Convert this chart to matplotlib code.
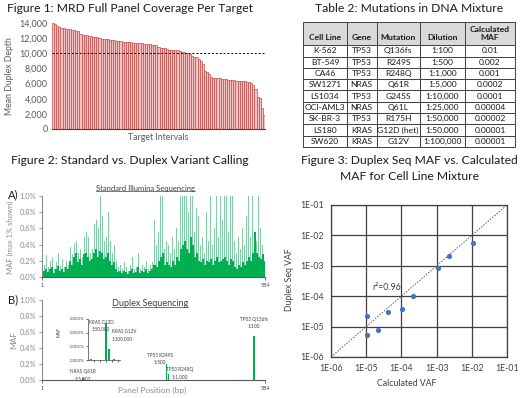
import matplotlib
matplotlib.use("Agg")
import matplotlib.pyplot as plt
import numpy as np
from matplotlib.lines import Line2D
from matplotlib.ticker import FuncFormatter

plt.rcParams["font.family"] = ["Lato", "DejaVu Sans"]

W, H = 520, 398
TITLE_COLOR = "#1a1a1a"
LABEL_COLOR = "#595959"
TITLE_SIZE = 8.7

# ---- Figure 1: coverage per target (sorted)
depth = [14000, 13900, 13600, 13500, 13400, 13300, 13250, 13200, 13150, 13100,
         13050, 13000, 12950, 12500, 12450, 12400, 12350, 12300, 12250, 12200,
         12150, 12100, 12000, 11950, 11900, 11880, 11850, 11820, 11800, 11700,
         11650, 11600, 11580, 11550, 11520, 11500, 11480, 11450, 11420, 11400,
         11380, 11350, 11300, 11280, 11250, 11220, 11200, 11150, 11100, 11050,
         10800, 10750, 10700, 10650, 10600, 10500, 10450, 10420, 10400, 10380,
         10250, 10200, 10150, 10100, 10050, 9950, 9600, 9500, 9450, 9200,
         9000, 8600, 7600, 7500, 7300, 6900, 6800, 6750, 6700, 6700,
         6650, 6600, 6550, 6500, 6500, 6480, 6450, 6400, 6350, 6300,
         6300, 6280, 6250, 6200, 6100, 5800, 5300, 4200, 4150, 2800, 1800]
depth_target = 10000

# ---- Table 2
table_header = ["\nCell Line", "\nGene", "\nMutation", "\nDilution", "Calculated\nMAF"]
cell_lines = ["K-562", "BT-549", "CA46", "SW1271", "LS1034", "OCI-AML3", "SK-BR-3", "LS180", "SW620"]
genes = ["TP53", "TP53", "TP53", "NRAS", "TP53", "NRAS", "TP53", "KRAS", "KRAS"]
mutations = ["Q136fs", "R249S", "R248Q", "Q61R", "G245S", "Q61L", "R175H", "G12D (het)", "G12V"]
dilutions = ["1:100", "1:500", "1:1,000", "1:5,000", "1:10,000", "1:25,000", "1:50,000", "1:50,000", "1:100,000"]
calc_maf = ["0.01", "0.002", "0.001", "0.0002", "0.0001", "0.00004", "0.00002", "0.00001", "0.00001"]

# ---- Figure 2A: standard sequencing MAF (%), binned across the panel
std_maf_all = [0.27, 0.15, 0.27, 0.12, 0.20, 0.25, 0.10, 0.18, 0.30, 0.14, 0.22, 0.12, 0.20, 0.15,
               0.37, 0.28, 0.42, 0.45, 0.30, 0.35, 0.25, 0.50, 0.55,
               0.50, 0.30, 0.35, 0.65, 0.70, 0.60, 1.00, 0.75, 0.45, 0.50, 0.80, 0.45, 0.30, 0.40,
               0.20, 0.12, 0.15, 0.10, 0.18, 0.12, 0.08, 0.15, 0.25, 0.10, 0.12, 0.30, 0.10, 0.15,
               0.12, 0.20, 0.10, 0.15, 0.18,
               0.70, 0.40, 0.55, 1.00, 1.00, 0.35, 0.45,
               0.40, 0.30, 0.50, 0.35, 0.60, 0.45, 1.00,
               1.00, 1.00, 1.00, 0.80, 1.00, 1.00,
               0.55, 0.85, 0.75, 0.40, 0.50, 0.30, 0.80, 0.45,
               1.00, 0.40, 0.60, 1.00, 0.50, 1.00, 0.70, 1.00, 1.00, 0.55, 1.00, 1.00,
               0.45, 0.30, 0.50, 0.35, 0.60, 0.40, 0.75,
               1.00, 0.50, 1.00, 0.55, 0.45, 1.00, 0.60, 0.40, 0.30]
std_maf_base = [0.12, 0.08, 0.10, 0.06, 0.10, 0.12, 0.05, 0.10, 0.14, 0.08, 0.10, 0.06, 0.12, 0.10,
                0.20, 0.15, 0.25, 0.30, 0.18, 0.22, 0.15, 0.28, 0.30,
                0.25, 0.20, 0.22, 0.30, 0.35, 0.25, 0.32, 0.30, 0.22, 0.25, 0.30, 0.20, 0.15, 0.18,
                0.10, 0.06, 0.08, 0.05, 0.08, 0.06, 0.04, 0.07, 0.10, 0.05, 0.06, 0.12, 0.05, 0.07,
                0.06, 0.10, 0.05, 0.08, 0.10,
                0.15, 0.12, 0.20, 0.25, 0.30, 0.15, 0.18,
                0.15, 0.12, 0.20, 0.15, 0.25, 0.20, 0.35,
                0.40, 0.45, 0.35, 0.30, 0.50, 0.40,
                0.25, 0.30, 0.20, 0.18, 0.22, 0.15, 0.20, 0.18,
                0.22, 0.15, 0.20, 0.25, 0.18, 0.20, 0.22, 0.25, 0.20, 0.15, 0.22, 0.20,
                0.12, 0.10, 0.15, 0.12, 0.18, 0.15, 0.20,
                0.25, 0.20, 0.30, 0.55, 0.30, 0.25, 0.22, 0.28, 0.20]
panel_len = 584

# ---- Figure 2B: duplex calls
duplex_pos = [108, 327, 331, 555]
duplex_maf = [0.02, 0.20, 0.08, 0.55]
duplex_labels = ["NRAS Q61R\n1:5,000", "TP53 R249S\n1:500", "TP53 R248Q\n1:1,000", "TP53 Q136fs\n1:100"]
inset_pos = [0.9, 5.6, 6.6, 8.1]
inset_maf = [0.0001, 0.0027, 0.0008, 0.0001]
inset_labels = ["KRAS G12D\n1:50,000", "KRAS G12V\n1:100,000"]

# ---- Figure 3
calc_vaf = [1.07e-2, 2.2e-3, 1.1e-3, 2.15e-4, 1.07e-4, 4.3e-5, 1.04e-5, 2.1e-5, 1.04e-5]
duplex_vaf = [5.5e-3, 2.1e-3, 8.6e-4, 1.05e-4, 3.9e-5, 2.96e-5, 2.3e-5, 7.6e-6, 5.2e-6]


def box(l, t, r, b):
    return [l / W, 1 - b / H, (r - l) / W, (b - t) / H]


def ftext(fig, x, y, s, **kw):
    return fig.text(x / W, 1 - y / H, s, **kw)


def underline(fig, txt):
    bb = txt.get_window_extent(fig.canvas.get_renderer()).transformed(fig.transFigure.inverted())
    fig.add_artist(Line2D([bb.x0, bb.x1], [bb.y0 + 0.002, bb.y0 + 0.002], transform=fig.transFigure,
                          color=txt.get_color(), lw=0.5))


def pct(v, _):
    return f"{v:.1f}%"


fig = plt.figure(figsize=(W / 100, H / 100), dpi=100)

# Figure 1
ax1 = fig.add_axes(box(52, 23, 265, 129))
ax1.bar(np.arange(len(depth)), depth, width=1.0, color="#F4C2C2", edgecolor="#C0504D", linewidth=0.5)
ax1.axhline(depth_target, color="black", ls=(0, (2, 2)), lw=0.7)
ax1.set_xlim(-0.5, len(depth) - 0.5)
ax1.set_ylim(0, 14000)
ax1.set_yticks(np.arange(0, 14001, 2000))
ax1.yaxis.set_major_formatter(FuncFormatter(lambda v, _: f"{v:,.0f}"))
ax1.set_xticks([])
for s in ["top", "right", "left"]:
    ax1.spines[s].set_visible(False)
ax1.spines["bottom"].set_color("#404040")
ax1.tick_params(axis="y", length=0, labelsize=6.5, labelcolor=LABEL_COLOR, pad=3)
ftext(fig, 130, 9, "Figure 1: MRD Full Panel Coverage Per Target", fontsize=TITLE_SIZE, color=TITLE_COLOR, ha="center", va="center")
ftext(fig, 158, 138, "Target Intervals", fontsize=6.3, color=LABEL_COLOR, ha="center", va="center")
ftext(fig, 10, 76, "Mean Duplex Depth", fontsize=6.3, color=LABEL_COLOR, ha="center", va="center", rotation=90)

# Table 2
axt = fig.add_axes(box(303, 22, 515, 147))
axt.axis("off")
rows = list(zip(cell_lines, genes, mutations, dilutions, calc_maf))
tbl = axt.table(cellText=rows, colLabels=table_header, colWidths=[44, 29.4, 43.3, 45, 50],
                cellLoc="center", bbox=[0, 0, 1, 1])
tbl.auto_set_font_size(False)
tbl.set_fontsize(6.1)
for (r, c), cell in tbl.get_celld().items():
    cell.set_edgecolor("#404040")
    cell.set_linewidth(0.7)
    cell.get_text().set_color("#1a1a1a")
    if r == 0:
        cell.set_height(2.05)
        cell.set_facecolor("#D9D9D9")
        cell.get_text().set_fontweight("bold")
    else:
        cell.set_height(1.0)
ftext(fig, 409, 9, "Table 2: Mutations in DNA Mixture", fontsize=TITLE_SIZE, color=TITLE_COLOR, ha="center", va="center")

# Figure 2
ftext(fig, 130, 160, "Figure 2: Standard vs. Duplex Variant Calling", fontsize=TITLE_SIZE, color=TITLE_COLOR, ha="center", va="center")

pos = np.linspace(1, panel_len, len(std_maf_all))
axa = fig.add_axes(box(42, 196, 265, 277))
axa.bar(pos, std_maf_all, width=2.6, color="#6CC595", alpha=0.85, linewidth=0)
axa.bar(pos, std_maf_base, width=5.3, color="#00B050", linewidth=0)

axb = fig.add_axes(box(42, 300, 265, 380))
axb.bar(duplex_pos, duplex_maf, width=3.5, color="#00B050", linewidth=0)
label_xy = [(108, 0.06), (309, 0.26), (362, 0.09), (555, 0.71)]
for (lx, ly), lab in zip(label_xy, duplex_labels):
    axb.text(lx, ly, lab, fontsize=3.4, color="#404040", ha="center", va="center", linespacing=1.5)

for ax in (axa, axb):
    ax.set_xlim(1, panel_len)
    ax.set_ylim(0, 1.0)
    ax.set_yticks(np.arange(0, 1.01, 0.2))
    ax.yaxis.set_major_formatter(FuncFormatter(pct))
    ax.set_xticks([1, panel_len])
    ax.set_xticklabels(["1", "584"])
    for s in ["top", "right"]:
        ax.spines[s].set_visible(False)
    ax.spines["left"].set_color("#8C8C8C")
    ax.spines["bottom"].set_color("#595959")
    ax.spines["left"].set_linewidth(0.8)
    ax.spines["bottom"].set_linewidth(0.8)
    ax.tick_params(axis="y", length=2, width=0.6, color="#8C8C8C", labelsize=5.5, labelcolor="#8C8C8C", pad=2)
    ax.tick_params(axis="x", length=2, width=0.6, color="#595959", labelsize=4, labelcolor="#404040", pad=2)

ta = ftext(fig, 145, 188, "Standard Illumina Sequencing", fontsize=5.5, color="#404040", ha="center", va="center")
tb = ftext(fig, 150, 303, "Duplex Sequencing", fontsize=6.5, color="#404040", ha="center", va="center")
ftext(fig, 8, 195, "A)", fontsize=8, color=TITLE_COLOR, ha="left", va="center")
ftext(fig, 8, 300, "B)", fontsize=8, color=TITLE_COLOR, ha="left", va="center")
ftext(fig, 10, 237, "MAF (max 1% shown)", fontsize=5.5, color="#8C8C8C", ha="center", va="center", rotation=90)
ftext(fig, 14, 340, "MAF", fontsize=6, color="#8C8C8C", ha="center", va="center", rotation=90)
ftext(fig, 152, 390, "Panel Position (bp)", fontsize=6, color="#8C8C8C", ha="center", va="center")

# inset with the low-level KRAS calls
axi = fig.add_axes(box(88, 319, 120, 360))
axi.bar(inset_pos, inset_maf, width=0.7, color="#00B050", linewidth=0)
axi.set_xlim(0, 10)
axi.set_ylim(0, 0.003)
axi.set_yticks([0, 0.001, 0.002, 0.003])
axi.yaxis.set_major_formatter(FuncFormatter(lambda v, _: f"{v:.3f}%"))
axi.set_xticks([1.9, 3.8, 5.6, 7.5, 9.3])
axi.set_xticklabels([])
for s in ["top", "right"]:
    axi.spines[s].set_visible(False)
for s in ["left", "bottom"]:
    axi.spines[s].set_linewidth(0.5)
    axi.spines[s].set_color("#404040")
axi.tick_params(length=1.2, width=0.4, labelsize=3.2, labelcolor="#404040", pad=1.5)
axi.set_facecolor("none")
axi.text(4.1, 0.00252, inset_labels[0], fontsize=3.3, color="#404040", ha="center", va="center", linespacing=1.5)
axi.text(7.5, 0.00183, inset_labels[1], fontsize=3.3, color="#404040", ha="left", va="center", linespacing=1.5)
ftext(fig, 59, 332, "MAF", fontsize=3.3, color="#404040", ha="center", va="center", rotation=90)

# Figure 3
ax3 = fig.add_axes(box(331, 205, 507, 357))
ax3.set_xscale("log")
ax3.set_yscale("log")
ax3.set_xlim(1e-6, 1e-1)
ax3.set_ylim(1e-6, 1e-1)
ax3.plot([1e-6, 1e-1], [1e-6, 1e-1], color="#595959", ls=(0, (1.5, 1.5)), lw=0.7)
ax3.scatter(calc_vaf, duplex_vaf, s=14, color="#4472C4", zorder=3, linewidths=0)
decades = [1e-6, 1e-5, 1e-4, 1e-3, 1e-2, 1e-1]
sci = FuncFormatter(lambda v, _: f"{v:.0E}")
ax3.set_xticks(decades)
ax3.set_yticks(decades)
ax3.xaxis.set_major_formatter(sci)
ax3.yaxis.set_major_formatter(sci)
ax3.minorticks_off()
ax3.grid(True, color="#404040", lw=0.9)
for s in ax3.spines.values():
    s.set_color("#404040")
    s.set_linewidth(0.9)
ax3.tick_params(length=0, labelsize=6.3, labelcolor="#404040", pad=5)
ax3.text(1.5e-5, 1.9e-4, "r²=0.96", fontsize=6.3, color="#404040", ha="left", va="center")
ftext(fig, 409, 160, "Figure 3: Duplex Seq MAF vs. Calculated", fontsize=TITLE_SIZE, color=TITLE_COLOR, ha="center", va="center")
ftext(fig, 409, 176, "MAF for Cell Line Mixture", fontsize=TITLE_SIZE, color=TITLE_COLOR, ha="center", va="center")
ftext(fig, 407, 383, "Calculated VAF", fontsize=6.3, color="#404040", ha="center", va="center")
ftext(fig, 290, 280, "Duplex Seq VAF", fontsize=6.3, color="#404040", ha="center", va="center", rotation=90)

underline(fig, ta)
underline(fig, tb)

fig.savefig("out.png", dpi=100, facecolor="white")
